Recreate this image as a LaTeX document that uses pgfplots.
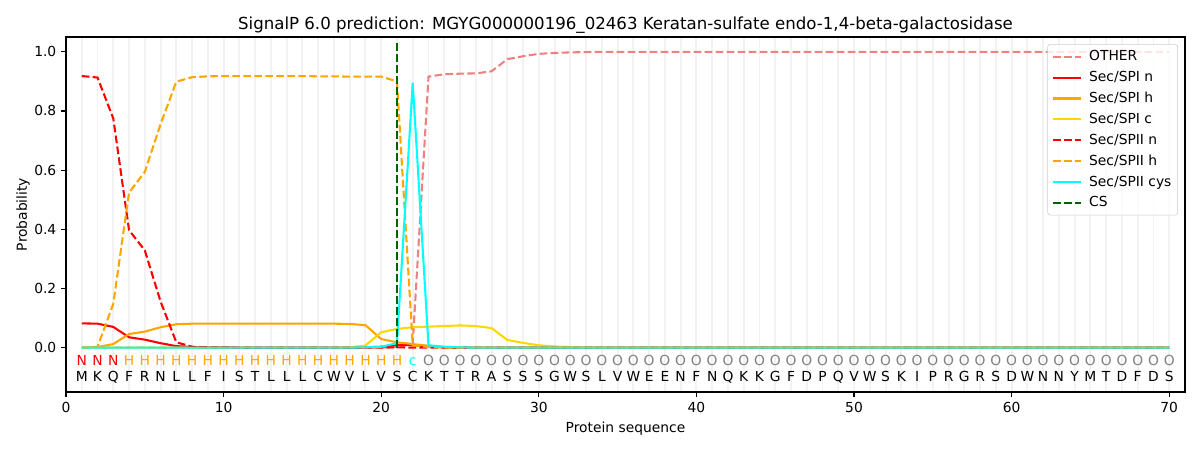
\documentclass[border=0pt]{standalone}
\usepackage{pgfplots}
\usepackage{pgfplotstable}
\pgfplotsset{compat=1.18}
\usepackage{fontspec}
\setmainfont{DejaVu Sans}
\definecolor{lcoral}{HTML}{F08080}
\definecolor{orng}{HTML}{FFA500}
\definecolor{gld}{HTML}{FFD700}
\definecolor{dgreen}{HTML}{006400}
\definecolor{cyn}{HTML}{00FFFF}
\definecolor{gridc}{HTML}{F2F2F2}
\definecolor{legc}{HTML}{CCCCCC}
\definecolor{ogray}{HTML}{808080}
\pgfplotstableread{
x other spin spih spic spiin spiih cys
1 0 0.082 0.000 0 0.918 0.000 0
2 0 0.081 0.002 0 0.913 0.003 0
3 0 0.070 0.012 0 0.775 0.148 0
4 0 0.035 0.046 0 0.397 0.524 0
5 0 0.027 0.054 0 0.329 0.594 0
6 0 0.015 0.069 0 0.156 0.755 0
7 0 0.005 0.079 0 0.018 0.899 0
8 0 0.002 0.081 0 0.003 0.914 0
9 0 0.001 0.081 0 0.001 0.917 0
10 0 0.001 0.081 0 0.001 0.918 0
11 0 0 0.081 0 0 0.918 0
12 0 0 0.081 0 0 0.918 0
13 0 0 0.081 0 0 0.918 0
14 0 0 0.081 0 0 0.918 0
15 0 0 0.081 0 0 0.918 0
16 0 0 0.081 0 0 0.917 0
17 0 0 0.081 0 0 0.917 0
18 0 0 0.080 0.001 0 0.916 0
19 0 0.001 0.076 0.007 0 0.916 0.001
20 0 0.003 0.029 0.052 0 0.916 0.003
21 0.002 0.009 0.018 0.063 0.001 0.900 0.015
22 0.013 0.008 0.012 0.069 0 0.008 0.895
23 0.916 0.005 0.006 0.071 0 0.002 0.008
24 0.924 0.001 0.002 0.073 0 0 0.003
25 0.926 0 0.001 0.075 0 0 0.001
26 0.927 0 0 0.073 0 0 0
27 0.934 0 0 0.066 0 0 0
28 0.975 0 0 0.026 0 0 0
29 0.985 0 0 0.016 0 0 0
30 0.993 0 0 0.008 0 0 0
31 0.996 0 0 0.004 0 0 0
32 0.998 0 0 0.002 0 0 0
33 0.999 0 0 0.001 0 0 0
34 1 0 0 0 0 0 0
35 1 0 0 0 0 0 0
36 1 0 0 0 0 0 0
37 1 0 0 0 0 0 0
38 1 0 0 0 0 0 0
39 1 0 0 0 0 0 0
40 1 0 0 0 0 0 0
41 1 0 0 0 0 0 0
42 1 0 0 0 0 0 0
43 1 0 0 0 0 0 0
44 1 0 0 0 0 0 0
45 1 0 0 0 0 0 0
46 1 0 0 0 0 0 0
47 1 0 0 0 0 0 0
48 1 0 0 0 0 0 0
49 1 0 0 0 0 0 0
50 1 0 0 0 0 0 0
51 1 0 0 0 0 0 0
52 1 0 0 0 0 0 0
53 1 0 0 0 0 0 0
54 1 0 0 0 0 0 0
55 1 0 0 0 0 0 0
56 1 0 0 0 0 0 0
57 1 0 0 0 0 0 0
58 1 0 0 0 0 0 0
59 1 0 0 0 0 0 0
60 1 0 0 0 0 0 0
61 1 0 0 0 0 0 0
62 1 0 0 0 0 0 0
63 1 0 0 0 0 0 0
64 1 0 0 0 0 0 0
65 1 0 0 0 0 0 0
66 1 0 0 0 0 0 0
67 1 0 0 0 0 0 0
68 1 0 0 0 0 0 0
69 1 0 0 0 0 0 0
70 1 0 0 0 0 0 0
}\probs
\pgfplotstableread{
x y l
1 -0.114 M
2 -0.114 K
3 -0.114 Q
4 -0.114 F
5 -0.114 R
6 -0.114 N
7 -0.114 L
8 -0.114 L
9 -0.114 F
10 -0.114 I
11 -0.114 S
12 -0.114 T
13 -0.114 L
14 -0.114 L
15 -0.114 L
16 -0.114 C
17 -0.114 W
18 -0.114 V
19 -0.114 L
20 -0.114 V
21 -0.114 S
22 -0.114 C
23 -0.114 K
24 -0.114 T
25 -0.114 T
26 -0.114 R
27 -0.114 A
28 -0.114 S
29 -0.114 S
30 -0.114 S
31 -0.114 G
32 -0.114 W
33 -0.114 S
34 -0.114 L
35 -0.114 V
36 -0.114 W
37 -0.114 E
38 -0.114 E
39 -0.114 N
40 -0.114 F
41 -0.114 N
42 -0.114 Q
43 -0.114 K
44 -0.114 K
45 -0.114 G
46 -0.114 F
47 -0.114 D
48 -0.114 P
49 -0.114 Q
50 -0.114 V
51 -0.114 W
52 -0.114 S
53 -0.114 K
54 -0.114 I
55 -0.114 P
56 -0.114 R
57 -0.114 G
58 -0.114 R
59 -0.114 S
60 -0.114 D
61 -0.114 W
62 -0.114 N
63 -0.114 N
64 -0.114 Y
65 -0.114 M
66 -0.114 T
67 -0.114 D
68 -0.114 F
69 -0.114 D
70 -0.114 S
}\seqtab
\pgfplotstableread{
x y l
1 -0.061 N
2 -0.061 N
3 -0.061 N
}\ntab
\pgfplotstableread{
x y l
4 -0.061 H
5 -0.061 H
6 -0.061 H
7 -0.061 H
8 -0.061 H
9 -0.061 H
10 -0.061 H
11 -0.061 H
12 -0.061 H
13 -0.061 H
14 -0.061 H
15 -0.061 H
16 -0.061 H
17 -0.061 H
18 -0.061 H
19 -0.061 H
20 -0.061 H
21 -0.061 H
}\htab
\pgfplotstableread{
x y l
22 -0.061 c
}\ctab
\pgfplotstableread{
x y l
23 -0.061 O
24 -0.061 O
25 -0.061 O
26 -0.061 O
27 -0.061 O
28 -0.061 O
29 -0.061 O
30 -0.061 O
31 -0.061 O
32 -0.061 O
33 -0.061 O
34 -0.061 O
35 -0.061 O
36 -0.061 O
37 -0.061 O
38 -0.061 O
39 -0.061 O
40 -0.061 O
41 -0.061 O
42 -0.061 O
43 -0.061 O
44 -0.061 O
45 -0.061 O
46 -0.061 O
47 -0.061 O
48 -0.061 O
49 -0.061 O
50 -0.061 O
51 -0.061 O
52 -0.061 O
53 -0.061 O
54 -0.061 O
55 -0.061 O
56 -0.061 O
57 -0.061 O
58 -0.061 O
59 -0.061 O
60 -0.061 O
61 -0.061 O
62 -0.061 O
63 -0.061 O
64 -0.061 O
65 -0.061 O
66 -0.061 O
67 -0.061 O
68 -0.061 O
69 -0.061 O
70 -0.061 O
}\otab
\pgfplotsset{
  letters/.style={only marks, mark=none, forget plot,
    nodes near coords, point meta=explicit symbolic,
    every node near coord/.append style={anchor=base, inner sep=0pt, yshift=0pt,
      font=\fontsize{10}{12}\selectfont, text=#1}},
}
\begin{document}
\begin{tikzpicture}
\useasboundingbox (-0.66in,-0.58in) rectangle (11.34in,3.92in);
\begin{axis}[
  scale only axis, width=11.19in, height=3.55in,
  xmin=0, xmax=71, ymin=-0.15, ymax=1.05,
  xtick={0,10,...,70}, ytick={0,0.2,...,1.0},
  minor xtick={1,2,...,70},
  xminorgrids=true,
  minor grid style={gridc, line width=1.4pt},
  minor tick length=0pt,
  tick pos=left, tick align=outside, major tick length=3.5pt,
  tick style={black, line width=0.8pt},
  axis line style={line width=0.8pt},
  /pgf/number format/assume math mode=true,
  tick label style={font=\fontsize{10}{12}\selectfont},
  yticklabel style={/pgf/number format/fixed, /pgf/number format/fixed zerofill, /pgf/number format/precision=1},
  xticklabel style={/pgf/number format/fixed},
  xlabel={Protein sequence}, ylabel={Probability},
  ylabel shift=-3.6pt,
  label style={font=\fontsize{10}{12}\selectfont},
  title={SignalP 6.0 prediction: MGYG000000196\_02463 Keratan-sulfate endo-1,4-beta-galactosidase},
  title style={font=\fontsize{12}{14}\selectfont, at={(0.5,1)}, anchor=base, yshift=-0.8pt},
  legend cell align=left,
  legend style={at={(0.9937,0.980)}, anchor=north east, draw=legc, fill=white, fill opacity=0.8, text opacity=1,
    rounded corners=2pt, font=\fontsize{10}{12}\selectfont, row sep=3.1pt, column sep=4pt, inner sep=3pt,
    nodes={inner sep=1.5pt}},
  legend image code/.code={\draw[#1] (0pt,0pt) -- (20pt,0pt);},
  every axis plot/.append style={line width=1.5pt},
]
\addplot[lcoral, dash pattern=on 5.55pt off 2.4pt] table[x=x, y=other] {\probs};
\addlegendentry{OTHER}
\addplot[red] table[x=x, y=spin] {\probs};
\addlegendentry{Sec/SPI n}
\addplot[orng] table[x=x, y=spih] {\probs};
\addlegendentry{Sec/SPI h}
\addplot[gld] table[x=x, y=spic] {\probs};
\addlegendentry{Sec/SPI c}
\addplot[red, dash pattern=on 5.55pt off 2.4pt] table[x=x, y=spiin] {\probs};
\addlegendentry{Sec/SPII n}
\addplot[orng, dash pattern=on 5.55pt off 2.4pt] table[x=x, y=spiih] {\probs};
\addlegendentry{Sec/SPII h}
\addplot[cyn] table[x=x, y=cys] {\probs};
\addlegendentry{Sec/SPII cys}
\addplot[dgreen, dash pattern=on 5.55pt off 2.4pt] coordinates {(21,0) (21,1.034)};
\addlegendentry{CS}
\addplot[letters=black] table[x=x, y=y, meta=l] {\seqtab};
\addplot[letters=red] table[x=x, y=y, meta=l] {\ntab};
\addplot[letters=orng] table[x=x, y=y, meta=l] {\htab};
\addplot[letters=cyn] table[x=x, y=y, meta=l] {\ctab};
\addplot[letters=ogray] table[x=x, y=y, meta=l] {\otab};
\end{axis}
\end{tikzpicture}
\end{document}
